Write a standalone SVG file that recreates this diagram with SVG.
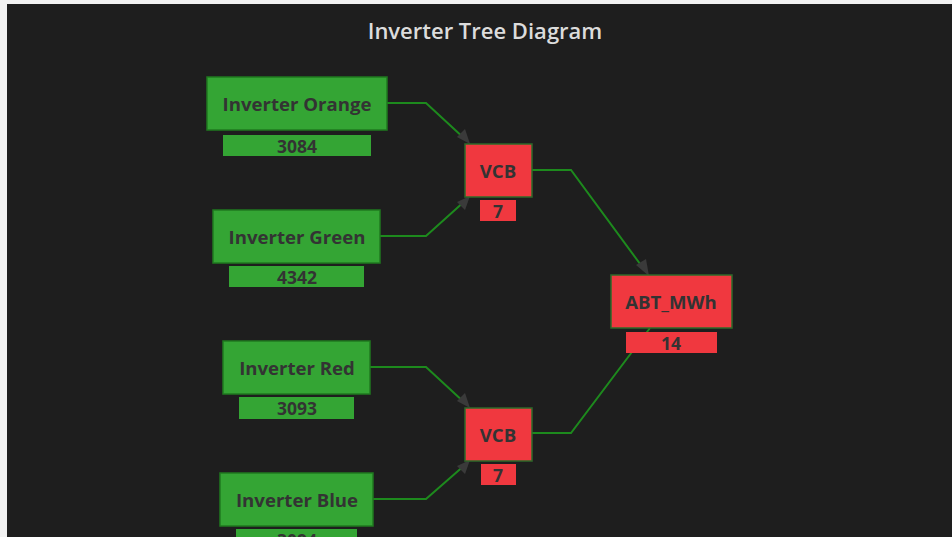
<svg xmlns="http://www.w3.org/2000/svg" width="952" height="537" viewBox="0 0 952 537">
<defs>
<style>
.bg{fill:#1e1e1e}
.title{font-family:"Open Sans","Liberation Sans",sans-serif;font-size:22px;font-weight:600;fill:#dcdcdc;text-anchor:middle}
.g{fill:#34a534;stroke:#1f7a1f;stroke-width:1.5}
.gv{fill:#34a534}
.r{fill:#f0383f;stroke:#2e6a2a;stroke-width:1.5}
.rv{fill:#f0383f}
.lbl{font-family:"Open Sans","Liberation Sans",sans-serif;font-size:18.6px;font-weight:700;fill:#333;text-anchor:middle}
.val{font-family:"Open Sans","Liberation Sans",sans-serif;font-size:17.5px;font-weight:700;fill:#333;text-anchor:middle}
.link{fill:none;stroke:#1d8a1d;stroke-width:2}
.ah{fill:#3a3a3a}
</style>
</defs>
<rect x="0" y="0" width="952" height="537" fill="#f2f2f2"/>
<rect class="bg" x="7" y="4" width="945" height="533"/>
<text class="title" x="485" y="39">Inverter Tree Diagram</text>
<g id="connectors">
<path class="link" d="M387,103 L426,103 L466,140"/>
<path class="link" d="M380,236 L426,236 L466,200"/>
<path class="link" d="M370,367 L426,367 L466,404"/>
<path class="link" d="M373,499 L426,499 L466,464"/>
<path class="link" d="M532,170 L571,170 L646,272"/>
<path class="link" d="M532,433 L571,433 L650,328"/>
<polygon class="ah" points="470,144 457,137 465,129"/>
<polygon class="ah" points="470,196 465,210 457,202"/>
<polygon class="ah" points="470,408 457,401 465,393"/>
<polygon class="ah" points="470,460 465,474 457,466"/>
<polygon class="ah" points="649,276 636,265 646,259"/>
</g>
<g id="inverter-orange">
<rect class="g" x="207" y="77" width="180" height="53"/>
<text class="lbl" x="297" y="111">Inverter Orange</text>
<rect class="gv" x="223" y="135" width="148" height="21"/>
<text class="val" x="297" y="152.5">3084</text>
</g>
<g id="inverter-green">
<rect class="g" x="213" y="210" width="167" height="53"/>
<text class="lbl" x="297" y="244">Inverter Green</text>
<rect class="gv" x="229" y="266" width="135" height="21"/>
<text class="val" x="297" y="283.5">4342</text>
</g>
<g id="inverter-red">
<rect class="g" x="223" y="341" width="147" height="53"/>
<text class="lbl" x="297" y="375">Inverter Red</text>
<rect class="gv" x="239" y="397" width="115" height="22"/>
<text class="val" x="297" y="414.5">3093</text>
</g>
<g id="inverter-blue">
<rect class="g" x="220" y="473" width="153" height="53"/>
<text class="lbl" x="297" y="507">Inverter Blue</text>
<rect class="gv" x="236" y="529" width="121" height="21"/>
<text class="val" x="297" y="546.5">3094</text>
</g>
<g id="vcb-1">
<rect class="r" x="465" y="144" width="67" height="53"/>
<text class="lbl" x="498" y="178">VCB</text>
<rect class="rv" x="480" y="200" width="36" height="21"/>
<text class="val" x="498" y="217.5">7</text>
</g>
<g id="vcb-2">
<rect class="r" x="465" y="408" width="67" height="53"/>
<text class="lbl" x="498" y="442">VCB</text>
<rect class="rv" x="481" y="464" width="35" height="21"/>
<text class="val" x="498" y="481.5">7</text>
</g>
<g id="abt-mwh">
<rect class="r" x="611" y="275" width="121" height="53"/>
<text class="lbl" x="671" y="309">ABT_MWh</text>
<rect class="rv" x="626" y="332" width="91" height="21"/>
<text class="val" x="671" y="349.5">14</text>
</g>
</svg>
